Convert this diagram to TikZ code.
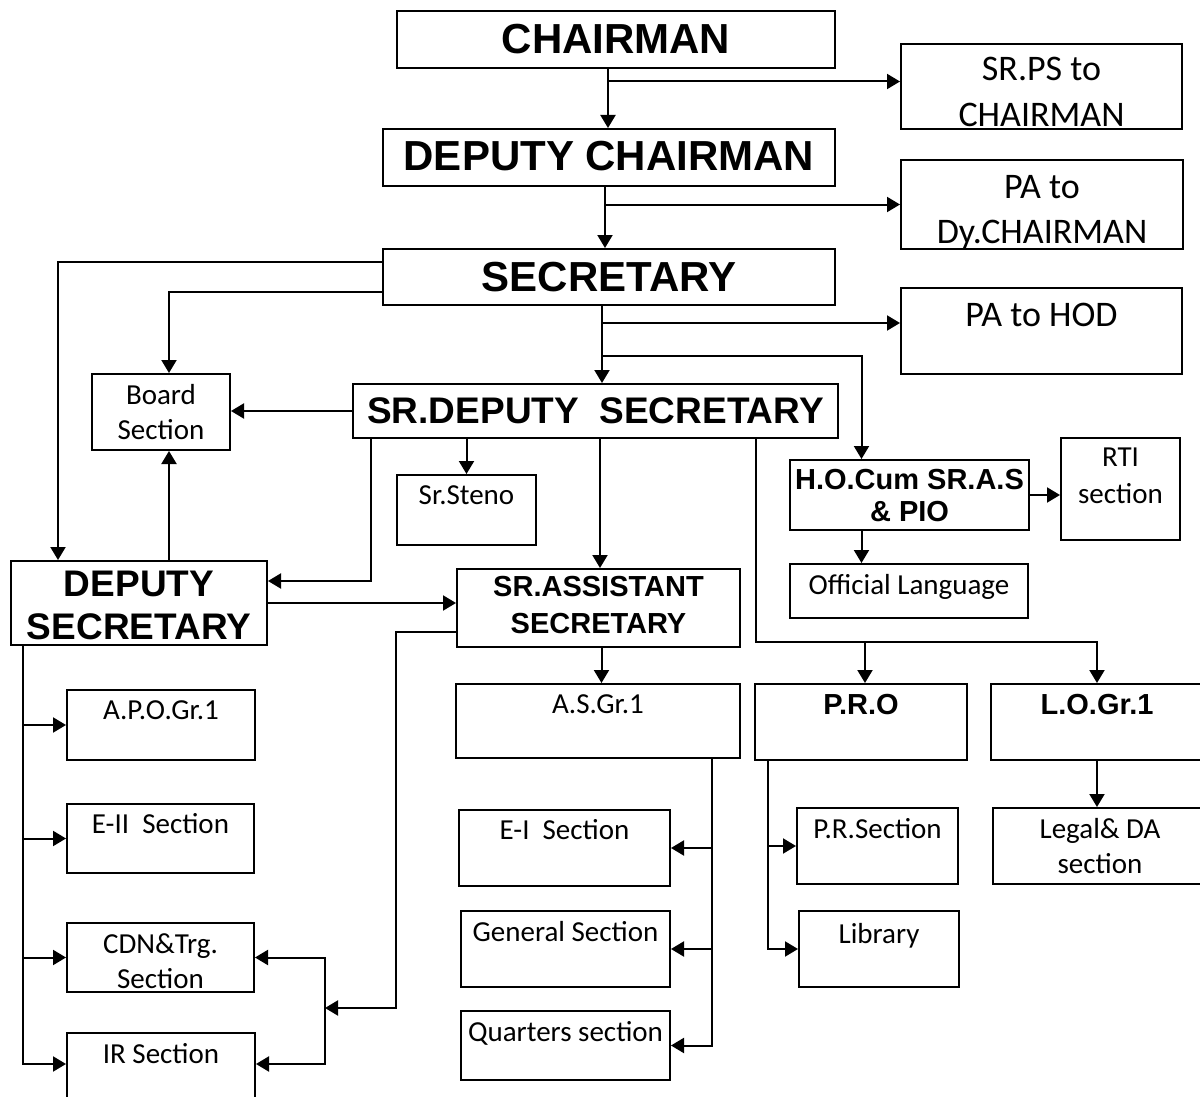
\documentclass[tikz,border=0pt]{standalone}
\usepackage{fontspec}
\setmainfont{Carlito}
\newfontfamily\arialfont{Liberation Sans}
\usetikzlibrary{arrows.meta}

\tikzset{
  bx/.style n args={3}{draw, line width=2pt, anchor=north west, inner sep=0pt,
    align=flush center, text width=#1pt, text height=#2pt, text depth=#3pt},
  hbig/.style={font=\arialfont\bfseries\fontsize{42}{48}\selectfont},
  hmid/.style={font=\arialfont\bfseries\fontsize{37}{43}\selectfont},
  hsml/.style={font=\arialfont\bfseries\fontsize{29}{37}\selectfont},
  tbig/.style={font=\fontsize{36}{46}\selectfont},
  tsml/.style={font=\fontsize{29}{35}\selectfont},
  arr/.style={line width=2pt, -{Triangle[length=13pt,width=15pt]}}
}

\begin{document}
\begin{tikzpicture}[x=1pt,y=-1pt]
\useasboundingbox (0,0) rectangle (1200,1097);

% top of the chart
\node[bx={438}{43}{14}, hbig] (chair) at (396,10) {CHAIRMAN};
\node[bx={281}{37}{48}, tbig] (srps) at (900,43) {SR.PS to\\CHAIRMAN};
\node[bx={452}{42}{15}, hbig] (dchair) at (382,128) {DEPUTY CHAIRMAN};
\node[bx={282}{38}{51}, tbig] (pady) at (900,159) {PA to\\Dy.CHAIRMAN};
\node[bx={452}{42}{14}, hbig] (secr) at (382,248) {SECRETARY};
\node[bx={281}{38}{48}, tbig] (pahod) at (900,287) {PA to HOD};

% middle
\node[bx={138}{30}{46}, tsml] (board) at (91,373) {Board\\Section};
\node[bx={485}{39}{15}, hmid] (srdep) at (352,383) {SR.DEPUTY\ \ SECRETARY};
\node[bx={139}{29}{41}, tsml] (steno) at (396,474) {Sr.Steno};
\node[bx={256}{35}{49}, hmid] (ds) at (10,560) {DEPUTY\\SECRETARY};
\node[bx={283}{27}{51}, hsml] (sras) at (456,568) {SR.ASSISTANT\\SECRETARY};
\node[bx={239}{29}{41}, font=\arialfont\bfseries\fontsize{29}{32}\selectfont] (ho) at (789,459) {H.O.Cum SR.A.S\\\& PIO};
\node[bx={119}{28}{74}, tsml, font=\fontsize{29}{37}\selectfont] (rti) at (1060,437) {RTI\\section};
\node[bx={238}{30}{24}, tsml] (offl) at (789,563) {Official Language};

% sections
\node[bx={188}{29}{41}, tsml] (apo) at (66,689) {A.P.O.Gr.1};
\node[bx={187}{29}{40}, tsml] (e2) at (66,803) {E-II\ \ Section};
\node[bx={187}{30}{39}, tsml] (cdn) at (66,922) {CDN\&Trg.\\Section};
\node[bx={188}{30}{60}, tsml] (ir) at (66,1032) {IR Section};
\node[bx={284}{29}{45}, tsml] (asg1) at (455,683) {A.S.Gr.1};
\node[bx={211}{29}{47}, tsml] (e1) at (458,809) {E-I\ \ Section};
\node[bx={209}{30}{46}, tsml] (gen) at (460,910) {General Section};
\node[bx={209}{30}{39}, tsml] (qtr) at (460,1010) {Quarters section};
\node[bx={212}{30}{46}, hsml] (pro) at (754,683) {P.R.O};
\node[bx={212}{30}{46}, hsml] (logr) at (990,683) {L.O.Gr.1};
\node[bx={161}{30}{46}, tsml] (prs) at (796,807) {P.R.Section};
\node[bx={160}{32}{44}, tsml] (lib) at (798,910) {Library};
\node[bx={214}{30}{46}, tsml] (legal) at (992,807) {Legal\& DA\\section};

% spine
\coordinate (s1) at ([xshift=-8pt]chair.south);
\coordinate (s2) at ([xshift=-4pt]dchair.south);
\coordinate (s3) at ([xshift=-7pt]secr.south);
\draw[arr] (s1) -- (s1 |- dchair.north);
\draw[arr] ([yshift=5pt]s1 |- srps.west) -- ([yshift=5pt]srps.west);
\draw[arr] (s2) -- (s2 |- secr.north);
\draw[arr] (s2 |- pady.west) -- (pady.west);
\draw[arr] (s3) -- (s3 |- srdep.north);
\draw[arr] ([yshift=8pt]s3 |- pahod.west) -- ([yshift=8pt]pahod.west);
\draw[arr] ([yshift=-50pt]s3) -| ([xshift=-48pt]ho.north);

% left of secretary
\draw[arr] ([yshift=15pt]secr.west) -| ([xshift=-81pt]ds.north);
\draw[arr] ([yshift=-15pt]secr.west) -| ([xshift=8pt]board.north);
\draw[arr] (srdep.west) -- (srdep.west -| board.east);
\draw[arr] ([xshift=-225pt]srdep.south) |- ([yshift=22pt]ds.east);
\draw[arr] (steno.north |- srdep.south) -- (steno.north);
\draw[arr] ([xshift=4.5pt]srdep.south) -- ([xshift=4.5pt]srdep.south |- sras.north);
\draw[arr] ([xshift=8pt]board.south |- ds.north) -- ([xshift=8pt]board.south);
\draw[arr] (ds.east) -- (ds.east -| sras.west);

% deputy secretary column
\coordinate (dl) at ([xshift=-116pt]ds.south);
\draw[arr] (dl) |- ([yshift=14pt]ir.west);
\foreach \n in {apo,e2,cdn}
  \draw[arr] (dl |- \n.west) -- (\n.west);

\coordinate (brk) at (325,1008);
\draw[arr] ([yshift=-24pt]sras.west) -| ([xshift=71pt]brk) -- (brk);
\draw[arr] (brk) |- (cdn.east);
\draw[arr] (brk) |- ([yshift=14pt]ir.east);

% assistant secretary column
\draw[arr] ([xshift=3pt]sras.south) -- ([xshift=3pt]sras.south |- asg1.north);
\coordinate (al) at ([xshift=114pt]asg1.south);
\draw[arr] (al) |- (qtr.east);
\foreach \n in {e1,gen}
  \draw[arr] (al |- \n.east) -- (\n.east);

% P.R.O and L.O.
\coordinate (bus) at ([xshift=160pt]srdep.south);
\draw[arr] (bus) |- ([yshift=41pt]logr.north) -- (logr.north);
\draw[arr] ([xshift=4pt,yshift=41pt]pro.north) -- ([xshift=4pt]pro.north);
\coordinate (pl) at ([xshift=-93pt]pro.south);
\draw[arr] (pl) |- (lib.west);
\draw[arr] (pl |- prs.west) -- (prs.west);
\draw[arr] (logr.south) -- (logr.south |- legal.north);

% H.O.
\draw[arr] (ho.east) -- (ho.east -| rti.west);
\draw[arr] ([xshift=-48pt]ho.south) -- ([xshift=-48pt]ho.south |- offl.north);

\end{tikzpicture}
\end{document}
